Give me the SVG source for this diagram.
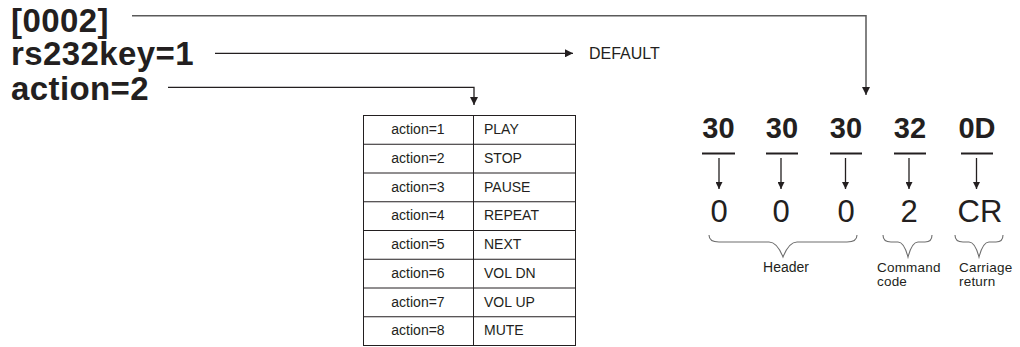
<svg xmlns="http://www.w3.org/2000/svg" width="1020" height="347" viewBox="0 0 1020 347">
  <style>
    .big { font-family: "Liberation Sans", Arial, sans-serif; font-weight: bold; font-size: 33px; fill: #231f20; letter-spacing: 0.4px; }
    .lbl { font-family: "Liberation Sans", Arial, sans-serif; font-size: 14px; fill: #231f20; }
    .sub { font-family: "Liberation Sans", Arial, sans-serif; font-size: 13.5px; fill: #231f20; letter-spacing: 0.2px; }
    .cell { font-family: "Liberation Sans", Arial, sans-serif; font-size: 14px; fill: #231f20; }
    .byte { font-family: "Liberation Sans", Arial, sans-serif; font-weight: bold; font-size: 29px; fill: #231f20; text-anchor: middle; }
    .chr { font-family: "Liberation Sans", Arial, sans-serif; font-size: 31px; fill: #231f20; text-anchor: middle; }
    .wire { fill: none; stroke: #231f20; stroke-width: 1.3; }
    .wire-grey { fill: none; stroke: #5a5a5a; stroke-width: 1.5; }
    .grid { fill: none; stroke: #231f20; stroke-width: 1; }
    .bar { stroke: #231f20; stroke-width: 2; }
    .brace { fill: none; stroke: #6e6e6e; stroke-width: 1.1; }
  </style>
  <defs>
    <marker id="head" viewBox="0 0 10 10" refX="10" refY="5" markerWidth="8" markerHeight="8" markerUnits="userSpaceOnUse" orient="auto">
      <path d="M0,0 L10,5 L0,10 Z" fill="#231f20"/>
    </marker>
    <marker id="head-s" viewBox="0 0 10 10" refX="10" refY="5" markerWidth="7" markerHeight="7" markerUnits="userSpaceOnUse" orient="auto">
      <path d="M0,0 L10,5 L0,10 Z" fill="#231f20"/>
    </marker>
  </defs>

  <!-- configuration lines -->
  <g id="cfg-id">
    <text class="big" x="11" y="32">[0002]</text>
  </g>
  <g id="cfg-key">
    <text class="big" x="11" y="65">rs232key=1</text>
  </g>
  <g id="cfg-action">
    <text class="big" x="11" y="100">action=2</text>
  </g>
  <g id="default">
    <text class="lbl" x="589" y="59" style="font-size:16px">DEFAULT</text>
  </g>

  <!-- action lookup table -->
  <g id="action-table">
    <rect class="grid" x="363.5" y="115.5" width="212" height="230"/>
    <line class="grid" x1="473.5" y1="115.5" x2="473.5" y2="345.5"/>
    <line class="grid" x1="363.5" y1="144.25" x2="575.5" y2="144.25"/>
    <line class="grid" x1="363.5" y1="173" x2="575.5" y2="173"/>
    <line class="grid" x1="363.5" y1="201.75" x2="575.5" y2="201.75"/>
    <line class="grid" x1="363.5" y1="230.5" x2="575.5" y2="230.5"/>
    <line class="grid" x1="363.5" y1="259.25" x2="575.5" y2="259.25"/>
    <line class="grid" x1="363.5" y1="288" x2="575.5" y2="288"/>
    <line class="grid" x1="363.5" y1="316.75" x2="575.5" y2="316.75"/>
    <g class="cell" text-anchor="middle">
      <text x="418" y="134">action=1</text>
      <text x="418" y="162.75">action=2</text>
      <text x="418" y="191.5">action=3</text>
      <text x="418" y="220.25">action=4</text>
      <text x="418" y="249">action=5</text>
      <text x="418" y="277.75">action=6</text>
      <text x="418" y="306.5">action=7</text>
      <text x="418" y="335.25">action=8</text>
    </g>
    <g class="cell">
      <text x="484" y="134">PLAY</text>
      <text x="484" y="162.75">STOP</text>
      <text x="484" y="191.5">PAUSE</text>
      <text x="484" y="220.25">REPEAT</text>
      <text x="484" y="249">NEXT</text>
      <text x="484" y="277.75">VOL DN</text>
      <text x="484" y="306.5">VOL UP</text>
      <text x="484" y="335.25">MUTE</text>
    </g>
  </g>

  <!-- byte sequence -->
  <g id="byte-1">
    <text class="byte" x="718.5" y="138">30</text>
    <line class="bar" x1="702" y1="153.5" x2="735" y2="153.5"/>
    <text class="chr" x="719" y="222">0</text>
  </g>
  <g id="byte-2">
    <text class="byte" x="782" y="138">30</text>
    <line class="bar" x1="766" y1="153.5" x2="798" y2="153.5"/>
    <text class="chr" x="781" y="222">0</text>
  </g>
  <g id="byte-3">
    <text class="byte" x="846" y="138">30</text>
    <line class="bar" x1="830" y1="153.5" x2="862" y2="153.5"/>
    <text class="chr" x="846" y="222">0</text>
  </g>
  <g id="byte-4">
    <text class="byte" x="910" y="138">32</text>
    <line class="bar" x1="894" y1="153.5" x2="926" y2="153.5"/>
    <text class="chr" x="909" y="222">2</text>
  </g>
  <g id="byte-5">
    <text class="byte" x="977" y="138">0D</text>
    <line class="bar" x1="961" y1="153.5" x2="993" y2="153.5"/>
    <text class="chr" x="980" y="222">CR</text>
  </g>

  <!-- groupings -->
  <g id="header">
    <path class="brace" d="M709,235 Q709,242 719,242 L769,242 Q777,242 783,257 Q789,242 797,242 L847,242 Q857,242 857,235"/>
    <text class="lbl" x="786" y="272" text-anchor="middle">Header</text>
  </g>
  <g id="command-code">
    <path class="brace" d="M883,235 Q883,242 891,242 L898,242 Q904,242 908,257 Q912,242 918,242 L925,242 Q932,242 932,235"/>
    <text class="sub" x="877" y="271.5">Command</text>
    <text class="sub" x="877" y="285.5">code</text>
  </g>
  <g id="carriage-return">
    <path class="brace" d="M955,235 Q955,242 963,242 L969,242 Q975,242 979,257 Q983,242 989,242 L996,242 Q1003,242 1003,235"/>
    <text class="sub" x="959" y="271.5">Carriage</text>
    <text class="sub" x="959" y="285.5">return</text>
  </g>

  <!-- connectors -->
  <g id="connectors">
    <polyline class="wire-grey" points="132,15.7 866,15.7 866,95" marker-end="url(#head)"/>
    <line class="wire" x1="215" y1="53.3" x2="573" y2="53.3" marker-end="url(#head)"/>
    <polyline class="wire" points="168,87.3 474,87.3 474,105" marker-end="url(#head)"/>
    <line class="wire" x1="719" y1="158" x2="719" y2="189" marker-end="url(#head-s)"/>
    <line class="wire" x1="781" y1="158" x2="781" y2="189" marker-end="url(#head-s)"/>
    <line class="wire" x1="845.5" y1="158" x2="845.5" y2="189" marker-end="url(#head-s)"/>
    <line class="wire" x1="909" y1="158" x2="909" y2="189" marker-end="url(#head-s)"/>
    <line class="wire" x1="976.5" y1="158" x2="976.5" y2="189" marker-end="url(#head-s)"/>
  </g>
</svg>
